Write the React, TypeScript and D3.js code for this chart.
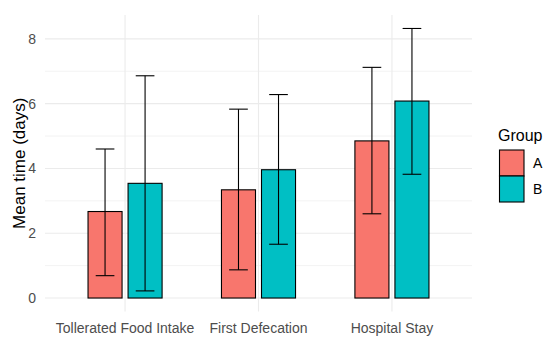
import React from 'react';
import * as d3 from 'd3';

const categories = ['Tollerated Food Intake', 'First Defecation', 'Hospital Stay'];
const groups = ['A', 'B'];
const groupColors = ['#F8766D', '#00BFC4'];

// mean, lower, upper per group (days)
const meanA = [2.67, 3.34, 4.85];
const lowerA = [0.69, 0.87, 2.6];
const upperA = [4.6, 5.83, 7.12];

const meanB = [3.54, 3.96, 6.08];
const lowerB = [0.22, 1.66, 3.82];
const upperB = [6.86, 6.28, 8.32];

const yTicks = [0, 2, 4, 6, 8];
const yMinor = [1, 3, 5, 7];

const App = () => {
    const width = 550,
          height = 341,
          left = 45,
          right = 472,
          top = 15,
          bottom = 311.5;

    const series = [
        { mean: meanA, lower: lowerA, upper: upperA },
        { mean: meanB, lower: lowerB, upper: upperB }
    ];

    const yMax = d3.max([...upperA, ...upperB]) as number;
    const pad = yMax * 0.05;

    const x = d3.scalePoint<string>()
        .domain(categories)
        .range([left, right])
        .padding(0.6);

    const y = d3.scaleLinear()
        .domain([-pad, yMax + pad])
        .range([bottom, top]);

    const step = x.step();
    const barW = 0.255 * step;
    const offsets = [-0.15 * step, 0.15 * step];
    const capW = 0.14 * step;

    const font = 'Liberation Sans, Arial, sans-serif';

    return (
        <svg width={width} height={height} style={{ display: 'block', position: 'absolute', left: 0, top: 0 }}>
            <rect width={width} height={height} fill='#fff' />

            {/* grid */}
            <g stroke='#EBEBEB'>
                {yMinor.map(t => (
                    <line key={'m' + t} x1={left} x2={right} y1={y(t)} y2={y(t)} strokeWidth={0.6} />
                ))}
                {yTicks.map(t => (
                    <line key={'t' + t} x1={left} x2={right} y1={y(t)} y2={y(t)} strokeWidth={1.1} />
                ))}
                {categories.map(c => (
                    <line key={c} x1={x(c)} x2={x(c)} y1={top} y2={bottom} strokeWidth={1.1} />
                ))}
            </g>

            {/* bars */}
            {series.map((s, gi) => (
                <g key={gi} fill={groupColors[gi]} stroke='#000' strokeWidth={1.1}>
                    {categories.map((c, i) => (
                        <rect key={c}
                            x={(x(c) as number) + offsets[gi] - barW / 2}
                            y={y(s.mean[i])}
                            width={barW}
                            height={y(0) - y(s.mean[i])} />
                    ))}
                </g>
            ))}

            {/* error bars */}
            {series.map((s, gi) => (
                <g key={'e' + gi} stroke='#000' strokeWidth={1.1} fill='none'>
                    {categories.map((c, i) => {
                        const cx = (x(c) as number) + offsets[gi];
                        return (
                            <g key={c}>
                                <line x1={cx} x2={cx} y1={y(s.lower[i])} y2={y(s.upper[i])} />
                                <line x1={cx - capW / 2} x2={cx + capW / 2} y1={y(s.upper[i])} y2={y(s.upper[i])} />
                                <line x1={cx - capW / 2} x2={cx + capW / 2} y1={y(s.lower[i])} y2={y(s.lower[i])} />
                            </g>
                        );
                    })}
                </g>
            ))}

            {/* y tick labels */}
            <g fill='#4D4D4D' fontFamily={font} fontSize={14} textAnchor='end'>
                {yTicks.map(t => (
                    <text key={t} x={36} y={y(t)} dy='0.35em'>{t}</text>
                ))}
            </g>

            {/* x labels */}
            <g fill='#4D4D4D' fontFamily={font} fontSize={14} textAnchor='middle'>
                {categories.map(c => (
                    <text key={c} x={x(c)} y={328} dy='0.35em'>{c}</text>
                ))}
            </g>

            {/* y title */}
            <text transform={`translate(19,${(top + bottom) / 2}) rotate(-90)`}
                textAnchor='middle' dy='0.35em' fontFamily={font} fontSize={17} fill='#000'>
                Mean time (days)
            </text>

            {/* legend */}
            <g fontFamily={font}>
                <text x={498} y={135} dy='0.35em' fontSize={16} fill='#000'>Group</text>
                {groups.map((g, i) => (
                    <g key={g}>
                        <rect x={499.5} y={150 + i * 26} width={24.5} height={26}
                            fill={groupColors[i]} stroke='#000' strokeWidth={1.1} />
                        <text x={533} y={163 + i * 26} dy='0.35em' fontSize={14} fill='#000'>{g}</text>
                    </g>
                ))}
            </g>
        </svg>
    );
};

export default App;
